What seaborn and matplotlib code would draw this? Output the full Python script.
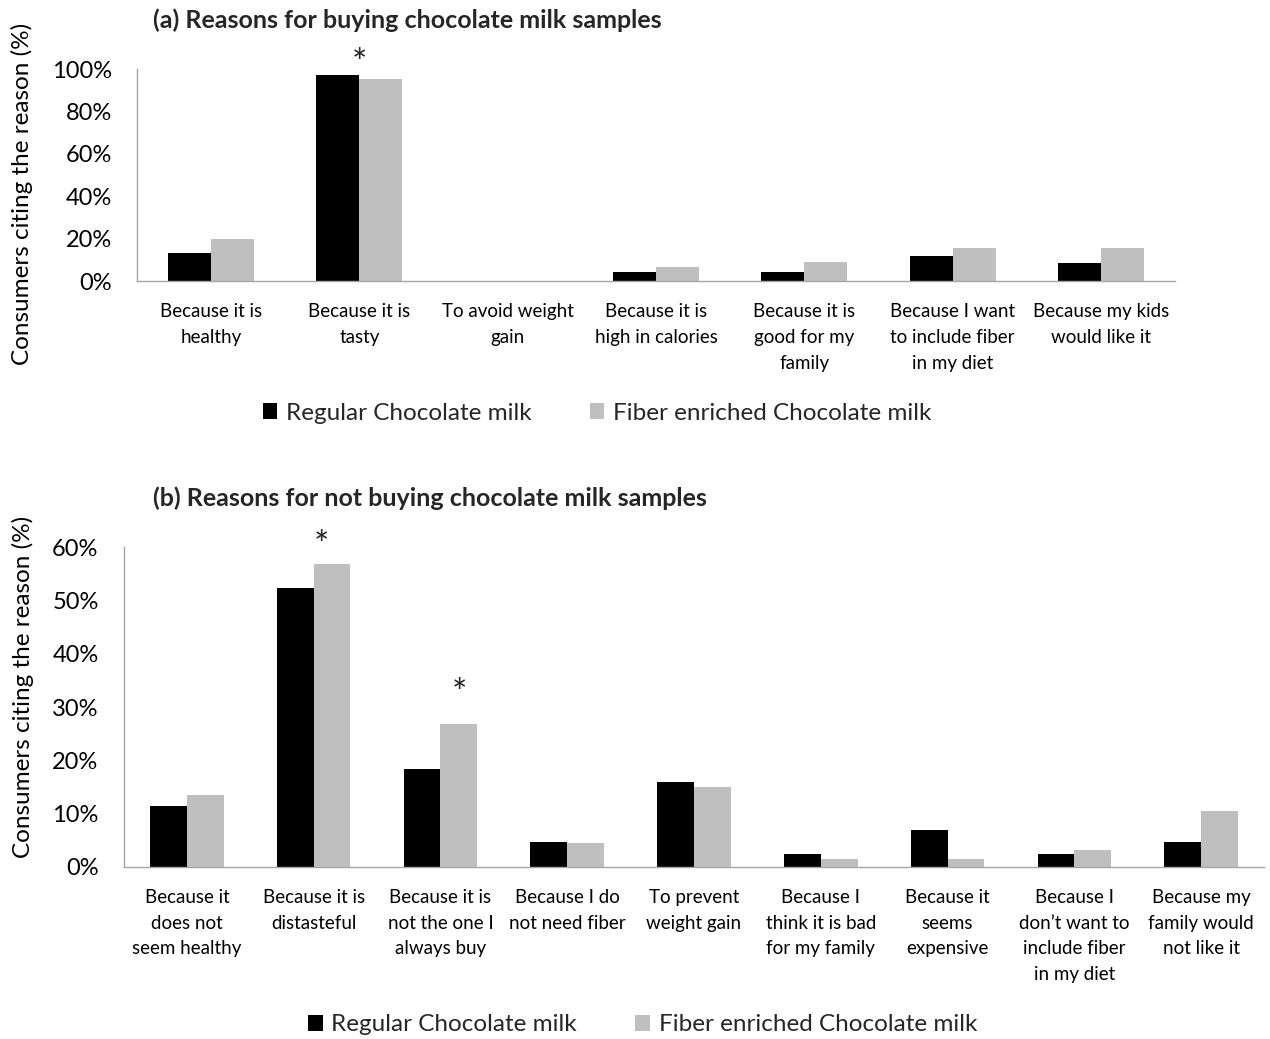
import matplotlib
matplotlib.use("Agg")
import matplotlib.pyplot as plt
import seaborn as sns
import pandas as pd
from matplotlib.ticker import FuncFormatter, MultipleLocator

sns.set_theme(style="white")
plt.rcParams["font.family"] = ["Lato", "DejaVu Sans"]

series_names = ["Regular Chocolate milk", "Fiber enriched Chocolate milk"]
bar_colors = ["#000000", "#BFBFBF"]

buy_reasons = [
    "Because it is\nhealthy",
    "Because it is\ntasty",
    "To avoid weight\ngain",
    "Because it is\nhigh in calories",
    "Because it is\ngood for my\nfamily",
    "Because I want\nto include fiber\nin my diet",
    "Because my kids\nwould like it",
]
buy_regular = [13.2, 97.3, 0.0, 4.1, 4.1, 11.7, 8.7]
buy_fiber = [20.0, 95.4, 0.0, 6.5, 8.8, 15.5, 15.5]

notbuy_reasons = [
    "Because it\ndoes not\nseem healthy",
    "Because it is\ndistasteful",
    "Because it is\nnot the one I\nalways buy",
    "Because I do\nnot need fiber",
    "To prevent\nweight gain",
    "Because I\nthink it is bad\nfor my family",
    "Because it\nseems\nexpensive",
    "Because I\ndon\u2019t want to\ninclude fiber\nin my diet",
    "Because my\nfamily would\nnot like it",
]
notbuy_regular = [11.4, 52.4, 18.3, 4.6, 15.9, 2.4, 6.9, 2.4, 4.6]
notbuy_fiber = [13.5, 56.9, 26.9, 4.5, 15.0, 1.5, 1.5, 3.1, 10.5]


def long_table(reasons, regular, fiber):
    rows = []
    for r, v in zip(reasons, regular):
        rows.append({"reason": r, "sample": series_names[0], "pct": v})
    for r, v in zip(reasons, fiber):
        rows.append({"reason": r, "sample": series_names[1], "pct": v})
    return pd.DataFrame(rows)


fig = plt.figure(figsize=(12.7, 10.39), dpi=100)
ax_a = fig.add_axes([0.1079, 0.7295, 0.8173, 0.2040])
ax_b = fig.add_axes([0.0973, 0.1658, 0.8983, 0.3074])

axis_gray = "#A6A6A6"


def draw_panel(ax, df, order, ymax, step):
    sns.barplot(data=df, x="reason", y="pct", hue="sample", order=order,
                hue_order=series_names, palette=bar_colors, width=0.58,
                linewidth=0, saturation=1, ax=ax, legend=True)
    ax.set_ylim(0, ymax)
    ax.set_xlim(-0.5, len(order) - 0.5)
    ax.yaxis.set_major_locator(MultipleLocator(step))
    ax.yaxis.set_major_formatter(FuncFormatter(lambda v, p: f"{v:.0f}%"))
    ax.set_xlabel("")
    ax.set_ylabel("Consumers citing the reason (%)", fontsize=17.5,
                  color="#000000")
    ax.tick_params(axis="x", length=0, pad=16, labelsize=13.5, colors="#000000")
    ax.tick_params(axis="y", length=0, pad=18, labelsize=17, colors="#000000")
    for lbl in ax.get_xticklabels():
        lbl.set_linespacing(1.62)
    for side in ["top", "right"]:
        ax.spines[side].set_visible(False)
    for side in ["left", "bottom"]:
        ax.spines[side].set_color(axis_gray)
        ax.spines[side].set_linewidth(1.0)
    ax.grid(False)
    handles, labels = ax.get_legend_handles_labels()
    ax.get_legend().remove()
    return handles, labels


h_a, l_a = draw_panel(ax_a, long_table(buy_reasons, buy_regular, buy_fiber),
                      buy_reasons, 100, 20)
h_b, l_b = draw_panel(ax_b, long_table(notbuy_reasons, notbuy_regular, notbuy_fiber),
                      notbuy_reasons, 60, 10)

ax_a.yaxis.set_label_coords(-0.1, 0.41)
ax_b.yaxis.set_label_coords(-0.0785, 0.563)

# significance marks
ax_a.text(1.0, 102.2, "*", ha="center", va="center", fontsize=26, clip_on=False)
ax_b.text(1.06, 60.2, "*", ha="center", va="center", fontsize=26, clip_on=False)
ax_b.text(2.15, 32.3, "*", ha="center", va="center", fontsize=26, clip_on=False)

fig.text(0.1205, 0.9808, "(a) Reasons for buying chocolate milk samples",
         fontsize=18, fontweight="bold", ha="left", va="center")
fig.text(0.1205, 0.5207, "(b) Reasons for not buying chocolate milk samples",
         fontsize=18, fontweight="bold", ha="left", va="center")

legend_kw = dict(ncol=2, frameon=False, fontsize=17.5, handlelength=0.6,
                 handleheight=0.6, handletextpad=0.35, columnspacing=2.4)
fig.legend(h_a, l_a, loc="center", bbox_to_anchor=(0.470, 0.6025), **legend_kw)
fig.legend(h_b, l_b, loc="center", bbox_to_anchor=(0.506, 0.0135), **legend_kw)

fig.savefig("out.png", dpi=100, facecolor="white")
